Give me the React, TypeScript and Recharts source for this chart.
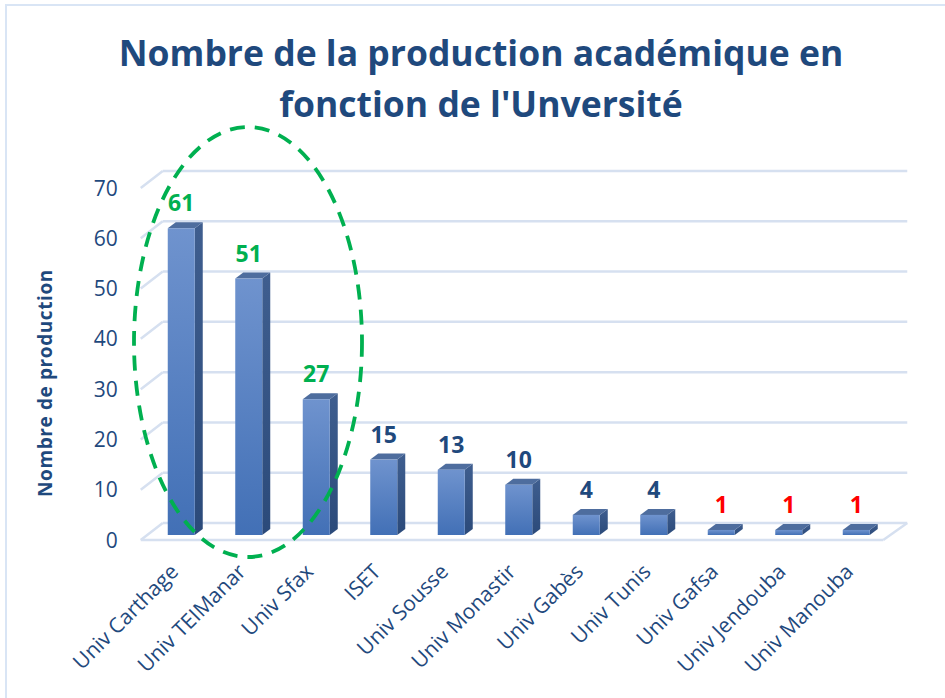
import React from 'react';
import { BarChart, Bar, XAxis, YAxis, CartesianGrid, LabelList } from 'recharts';

const categories = ['Univ Carthage', 'Univ TEIManar', 'Univ Sfax', 'ISET', 'Univ Sousse', 'Univ Monastir', 'Univ Gabès', 'Univ Tunis', 'Univ Gafsa', 'Univ Jendouba', 'Univ Manouba'];
const values = [61, 51, 27, 15, 13, 10, 4, 4, 1, 1, 1];
const GREEN = '#00B050';
const NAVY = '#1F497D';
const RED = '#FF0000';
const labelColors = [GREEN, GREEN, GREEN, NAVY, NAVY, NAVY, NAVY, NAVY, RED, RED, RED];
const yTicks = [0, 10, 20, 30, 40, 50, 60, 70];
const titleLines = ['Nombre de la production académique en', "fonction de l'Unversité"];
const yTitle = 'Nombre de production';

const data = categories.map((name, i) => ({ name, value: values[i] }));

const W = 945;
const H = 698;
const M = { top: 188, right: 54.75, bottom: 138, left: 87.75 };
const XAXIS_H = 20;
const YAXIS_W = 60;
const PLOT_BOTTOM = H - M.bottom - XAXIS_H;
const FONT = '"Open Sans", "Liberation Sans", sans-serif';
const GRID = '#D6E0F0';

const DX = 8;
const DY = 6;
const LIFT = 5;

const Bar3D = (props: any) => {
  const { x, y, width, height, index } = props;
  if (height == null || width == null) return null;
  const fy = y - LIFT;
  const id = `fg${index}`;
  const sid = `sg${index}`;
  return (
    <g>
      <defs>
        <linearGradient id={id} x1="0" y1="0" x2="0" y2="1">
          <stop offset="0%" stopColor="#6F93CE" />
          <stop offset="100%" stopColor="#4270B6" />
        </linearGradient>
        <linearGradient id={sid} x1="0" y1="0" x2="0" y2="1">
          <stop offset="0%" stopColor="#3F5E8F" />
          <stop offset="100%" stopColor="#2B4A7A" />
        </linearGradient>
      </defs>
      <polygon
        points={`${x + width},${fy} ${x + width + DX},${fy - DY} ${x + width + DX},${fy + height - DY} ${x + width},${fy + height}`}
        fill={`url(#${sid})`}
      />
      <polygon
        points={`${x},${fy} ${x + DX},${fy - DY} ${x + width + DX},${fy - DY} ${x + width},${fy}`}
        fill="#4E6D9E"
      />
      <rect x={x} y={fy} width={width} height={height} fill={`url(#${id})`} />
    </g>
  );
};

const gridLine = (props: any) => {
  const { x1, x2, y1 } = props;
  const back = y1 - 17;
  const isFloor = Math.abs(y1 - PLOT_BOTTOM) < 1;
  return (
    <g key={`gl-${y1}`}>
      <line x1={x1 + 15} y1={back} x2={x2 + 17} y2={back} stroke={GRID} strokeWidth={2.5} />
      <line x1={x1 - 7} y1={y1} x2={x1 + 15} y2={back} stroke={GRID} strokeWidth={2.5} />
      {isFloor && (
        <>
          <line x1={x1 - 7} y1={y1} x2={x2 - 7} y2={y1} stroke={GRID} strokeWidth={2.5} />
          <line x1={x2 - 7} y1={y1} x2={x2 + 17} y2={back} stroke={GRID} strokeWidth={2.5} />
        </>
      )}
    </g>
  );
};

const XTick = (props: any) => {
  const { x, y, payload } = props;
  return (
    <g transform={`translate(${x - 2},${y + 33})`}>
      <text x={0} y={0} textAnchor="end" transform="rotate(-45)" fill={NAVY} fontSize={21} fontFamily={FONT}>
        {payload.value}
      </text>
    </g>
  );
};

const YTick = (props: any) => {
  const { x, y, payload } = props;
  return (
    <text x={x} y={y} dy="0.36em" textAnchor="end" fill={NAVY} fontSize={21} fontFamily={FONT}>
      {payload.value}
    </text>
  );
};

const ValueLabel = (props: any) => {
  const { x, y, width, value, index } = props;
  return (
    <text
      x={x + width / 2}
      y={y - LIFT - 17}
      textAnchor="middle"
      fill={labelColors[index]}
      fontSize={23}
      fontWeight="bold"
      fontFamily={FONT}
    >
      {value}
    </text>
  );
};

export default function App() {
  return (
    <div style={{ position: 'absolute', left: 0, top: 0, width: W, height: H, background: '#fff', overflow: 'hidden' }}>
      <div
        style={{
          position: 'absolute',
          left: 5,
          top: 4,
          width: W,
          height: H,
          borderLeft: '2px solid #D9E5F5',
          borderTop: '2px solid #D9E5F5',
        }}
      />
      <BarChart width={W} height={H} data={data} margin={M} barSize={27}>
        <CartesianGrid vertical={false} horizontal={gridLine} />
        <XAxis
          dataKey="name"
          height={XAXIS_H}
          interval={0}
          axisLine={false}
          tickLine={false}
          tickSize={0}
          tickMargin={0}
          tick={<XTick />}
        />
        <YAxis
          width={YAXIS_W}
          domain={[0, 70]}
          ticks={yTicks}
          axisLine={false}
          tickLine={false}
          tickSize={0}
          tickMargin={30}
          tick={<YTick />}
        />
        <Bar dataKey="value" isAnimationActive={false} shape={<Bar3D />}>
          <LabelList dataKey="value" content={<ValueLabel />} />
        </Bar>
      </BarChart>
      <svg width={W} height={H} style={{ position: 'absolute', left: 0, top: 0, pointerEvents: 'none' }}>
        <text x={481} y={66} textAnchor="middle" fill={NAVY} fontSize={35.5} fontWeight="bold" fontFamily={FONT}>
          {titleLines[0]}
        </text>
        <text x={481} y={117} textAnchor="middle" fill={NAVY} fontSize={35.5} fontWeight="bold" fontFamily={FONT}>
          {titleLines[1]}
        </text>
        <text
          x={0}
          y={0}
          transform="translate(52,383) rotate(-90)"
          textAnchor="middle"
          fill={NAVY}
          fontSize={19}
          fontWeight="bold"
          fontFamily={FONT}
          letterSpacing={0.6}
        >
          {yTitle}
        </text>
        <ellipse
          cx={248}
          cy={342}
          rx={114}
          ry={215}
          fill="none"
          stroke={GREEN}
          strokeWidth={3.8}
          strokeDasharray="15 10"
        />
      </svg>
    </div>
  );
}
